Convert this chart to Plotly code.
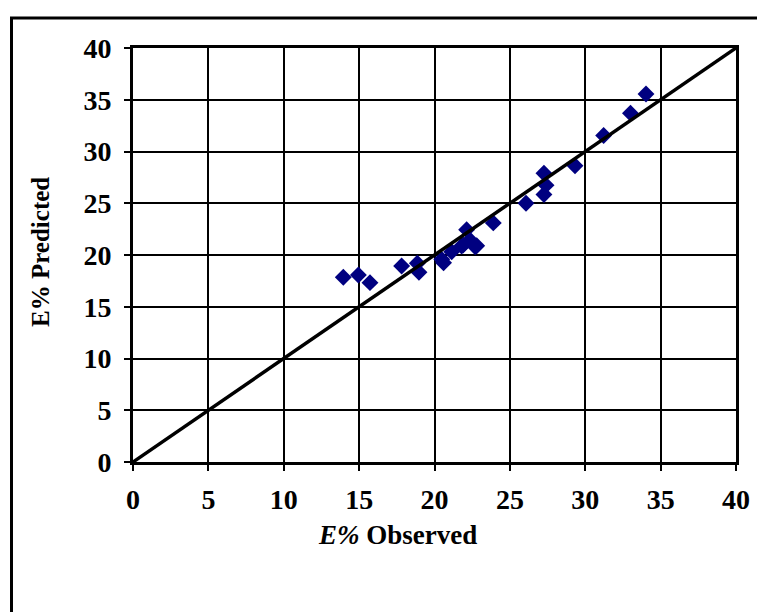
import plotly.graph_objects as go

# Observed vs predicted E% values
observed = [13.95, 14.95, 15.72, 17.82, 18.86, 18.97, 20.48, 20.6, 21.14, 21.8,
            21.9, 22.13, 22.35, 22.7, 22.8, 23.9, 26.07, 27.26, 27.4, 27.26,
            29.32, 31.22, 33.0, 34.03]
predicted = [17.85, 18.07, 17.33, 18.94, 19.2, 18.33, 19.58, 19.25, 20.32, 20.87,
             20.97, 22.45, 21.45, 20.8, 20.9, 23.1, 25.0, 27.9, 26.75, 25.85,
             28.63, 31.55, 33.7, 35.56]
line_x = [0, 40]
line_y = [0, 40]
ticks = [0, 5, 10, 15, 20, 25, 30, 35, 40]

font_family = "Liberation Serif"

fig = go.Figure()
fig.add_trace(go.Scatter(
    x=observed, y=predicted, mode="markers",
    marker=dict(symbol="diamond", size=13, color="#000080"),
    showlegend=False, cliponaxis=False))
fig.add_trace(go.Scatter(
    x=line_x, y=line_y, mode="lines",
    line=dict(color="black", width=3.5),
    showlegend=False, cliponaxis=False))

axis_common = dict(
    range=[0, 40], tickvals=ticks, ticktext=[str(t) for t in ticks],
    showgrid=True, gridcolor="black", gridwidth=2,
    showline=True, linecolor="black", linewidth=3, mirror=True,
    zeroline=False, ticks="outside", ticklen=6, tickcolor="black", tickwidth=1.5,
    tickfont=dict(family=font_family, size=28, color="black", weight="bold"),
)

fig.update_xaxes(**axis_common, ticklabelstandoff=4)
fig.update_yaxes(**axis_common, ticklabelstandoff=7)

# plot area in page pixels: x 133..736, y 48..462 (page has an 8px body margin)
fig.add_annotation(
    text="<i>E%</i> Observed", xref="paper", yref="paper",
    x=(397 - 133) / 603, y=(462 - 535) / 414, showarrow=False,
    xanchor="center", yanchor="middle",
    font=dict(family=font_family, size=27, color="black", weight="bold"))
fig.add_annotation(
    text="E% Predicted", xref="paper", yref="paper",
    x=(40 - 133) / 603, y=(462 - 252) / 414, showarrow=False, textangle=-90,
    xanchor="center", yanchor="middle",
    font=dict(family=font_family, size=25, color="black", weight="bold"))

# outer chart frame (extends past the right and bottom edges)
fig.add_shape(type="rect", xref="paper", yref="paper",
              x0=(11.5 - 133) / 603, x1=1.3,
              y0=-0.6, y1=(462 - 18) / 414,
              line=dict(color="black", width=3), layer="below")

fig.update_layout(
    width=765, height=612,
    margin=dict(l=125, r=37, t=40, b=158),
    paper_bgcolor="white", plot_bgcolor="white",
    font=dict(family=font_family, color="black"),
)

fig.write_html("out.html")
